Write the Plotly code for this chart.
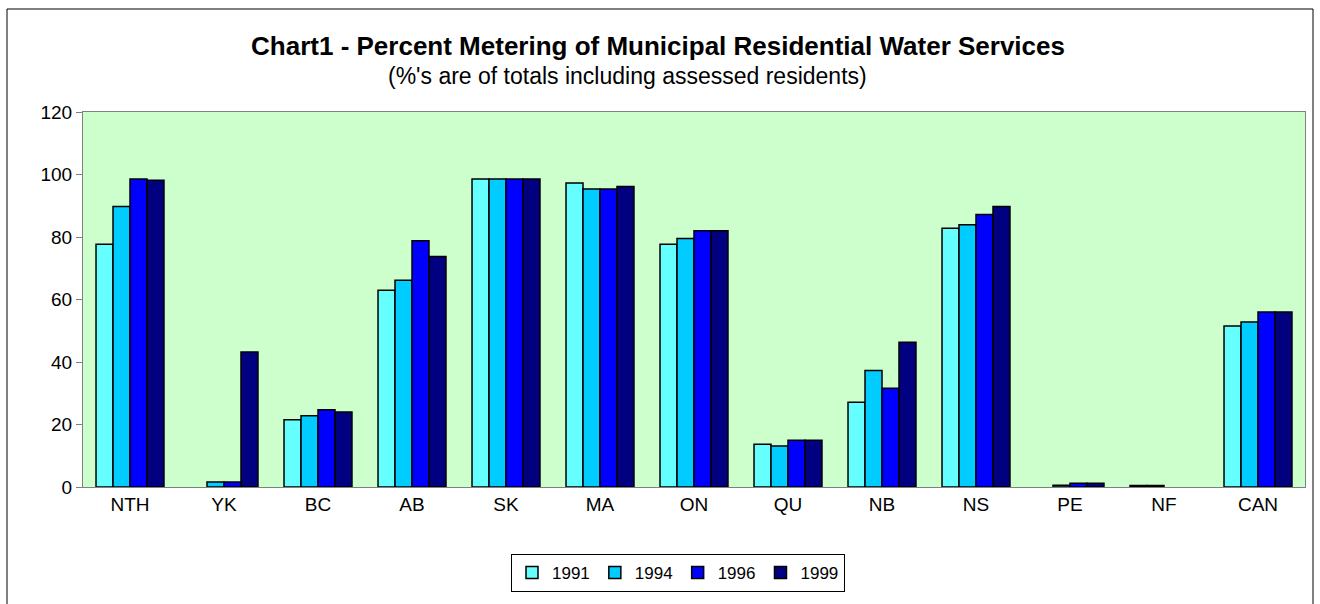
import plotly.graph_objects as go

# regions and survey years
regions = ["NTH", "YK", "BC", "AB", "SK", "MA", "ON", "QU", "NB", "NS", "PE", "NF", "CAN"]
years = ["1991", "1994", "1996", "1999"]

# percent metered (None = no bar shown)
pct_1991 = [77.7, None, 21.5, 63.0, 98.6, 97.3, 77.7, 13.7, 27.1, 82.8, None, 0.5, 51.5]
pct_1994 = [89.8, 1.6, 22.8, 66.2, 98.6, 95.4, 79.5, 13.1, 37.3, 83.9, 0.6, 0.5, 52.8]
pct_1996 = [98.6, 1.6, 24.7, 78.8, 98.6, 95.4, 82.0, 15.0, 31.6, 87.2, 1.2, None, 56.0]
pct_1999 = [98.2, 43.2, 24.0, 73.8, 98.6, 96.2, 82.0, 15.0, 46.3, 89.8, 1.2, None, 56.0]

series = [pct_1991, pct_1994, pct_1996, pct_1999]
colors = ["#66FFFF", "#00CCFF", "#0000FF", "#000080"]

W, H = 1320, 604
L, R, T, B = 83, 15, 112, 117
pw, ph = W - L - R, H - T - B

fig = go.Figure()
for yr, vals, col in zip(years, series, colors):
    fig.add_trace(go.Bar(x=regions, y=vals, name=yr,
                         marker=dict(color=col, line=dict(color="black", width=1.5))))

font = "Arial, Liberation Sans, sans-serif"

fig.update_layout(
    width=W, height=H,
    margin=dict(l=L, r=R, t=T, b=B),
    paper_bgcolor="white",
    plot_bgcolor="#CCFFCC",
    font=dict(family=font, size=19, color="black"),
    barmode="group",
    bargap=0.277,
    bargroupgap=0,
    title=dict(text="<b>Chart1 - Percent Metering of Municipal Residential Water Services</b>",
               x=0.4985, xanchor="center", y=1 - 46 / H, yanchor="middle",
               font=dict(family=font, size=26, color="black")),
    legend=dict(orientation="h", x=(511 - L) / pw, xanchor="left",
                y=(H - B - 554) / ph, yanchor="top",
                bordercolor="black", borderwidth=1, bgcolor="white",
                font=dict(size=17), itemwidth=30, tracegroupgap=0),
    showlegend=True,
)

fig.update_yaxes(range=[0, 120], tickvals=[0, 20, 40, 60, 80, 100, 120],
                 showgrid=False, zeroline=False,
                 ticks="outside", ticklen=6, tickcolor="#808080",
                 showline=True, linecolor="#808080", linewidth=1, mirror=True)
fig.update_xaxes(type="category", showgrid=False, ticks="",
                 showline=True, linecolor="#808080", linewidth=1, mirror=True)

fig.add_annotation(text="(%'s are of totals including assessed residents)",
                   xref="paper", yref="paper", x=(627 - L) / pw, y=(H - B - 76) / ph,
                   xanchor="center", yanchor="middle", showarrow=False,
                   font=dict(family=font, size=23, color="black"))

# outer chart border
fig.add_shape(type="rect", xref="paper", yref="paper",
              x0=(7 - L) / pw, x1=(1313 - L) / pw,
              y0=(H - B - 607) / ph, y1=(H - B - 9) / ph,
              line=dict(color="black", width=1), fillcolor="rgba(0,0,0,0)", layer="below")

fig.write_html("out.html", config={"displayModeBar": False},
               post_script="document.body.style.margin='0';")
